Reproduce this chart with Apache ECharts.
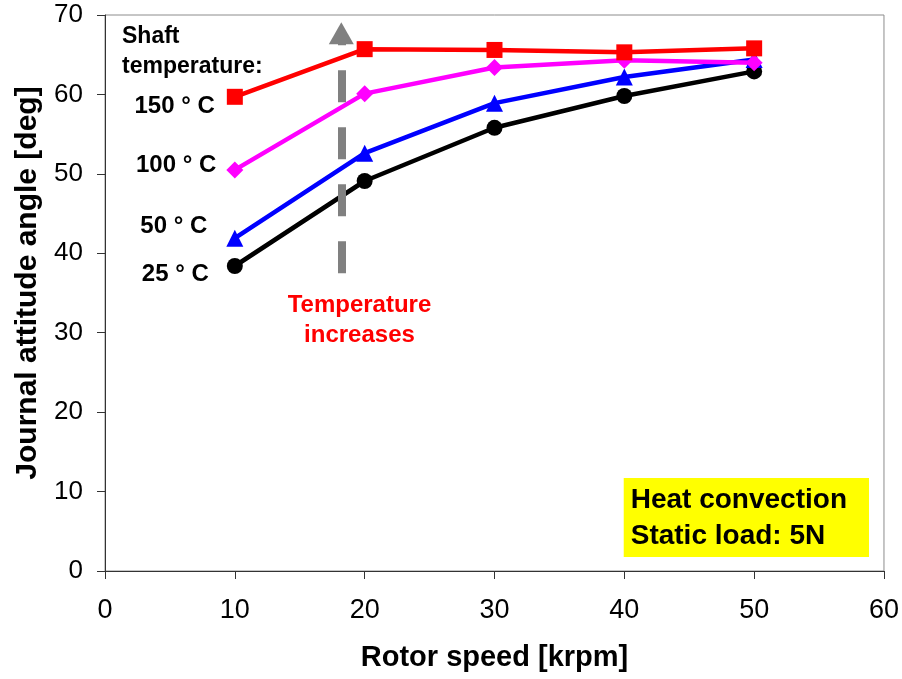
<!DOCTYPE html>
<html>
<head>
<meta charset="utf-8">
<script src="https://cdn.jsdelivr.net/npm/echarts@6/dist/echarts.min.js"></script>
<style>
  html, body { margin: 0; padding: 0; background: #fff; }
  #chart { width: 902px; height: 679px; }
</style>
</head>
<body>
<div id="chart"></div>
<script>
// Rotor speed [krpm] at which the attitude angle was measured
const rotorSpeed = [10, 20, 30, 40, 50];

// Journal attitude angle [deg] for each shaft temperature
const angle25C  = [38.4, 49.1, 55.8, 59.8, 62.9];
const angle50C  = [41.9, 52.6, 58.9, 62.2, 64.4];
const angle100C = [50.5, 60.1, 63.4, 64.3, 64.0];
const angle150C = [59.7, 65.7, 65.6, 65.3, 65.8];

const seriesNames = ['25 ° C', '50 ° C', '100 ° C', '150 ° C'];

// Trend arrow: speed position and angle span (bottom, head)
const arrowSpeed = 18.2;
const arrowSpan = [37.5, 67.7];

const FONT = '"Liberation Sans", Arial, sans-serif';

function pairs(values) {
  return rotorSpeed.map((x, i) => [x, values[i]]);
}

// Name the curve next to its first point
function withLeadLabel(values, distance, dy) {
  const d = pairs(values);
  d[0] = {
    value: d[0],
    label: {
      show: true,
      position: 'left',
      distance: distance,
      offset: [0, dy],
      formatter: '{a}',
      color: '#000',
      fontFamily: FONT,
      fontWeight: 'bold',
      fontSize: 24
    }
  };
  return d;
}

function lineSeries(name, values, color, symbol, size, width, distance, dy) {
  return {
    name: name,
    type: 'line',
    data: withLeadLabel(values, distance, dy),
    symbol: symbol,
    symbolSize: size,
    lineStyle: { color: color, width: width },
    itemStyle: { color: color },
    emphasis: { disabled: true },
    animation: false
  };
}

const chart = echarts.init(document.getElementById('chart'), null, { renderer: 'canvas' });

const series = [
  lineSeries(seriesNames[0], angle25C, '#000000', 'circle', 16, 4.5, 18, 8),
  lineSeries(seriesNames[1], angle50C, '#0000ff', 'triangle', 17, 4.5, 19, -12),
  lineSeries(seriesNames[2], angle100C, '#ff00ff', 'diamond', 17, 4.5, 10, -5),
  lineSeries(seriesNames[3], angle150C, '#ff0000', 'rect', 16, 4.5, 12, 10)
];

// Dashed grey arrow showing the direction of rising temperature
series[0].markLine = {
  silent: true,
  animation: false,
  symbol: ['none', 'triangle'],
  symbolSize: [25, 22],
  label: { show: false },
  lineStyle: { color: '#808080', width: 8, type: [32, 25] },
  emphasis: { disabled: true },
  data: [[
    { coord: [arrowSpeed, arrowSpan[0]] },
    { coord: [arrowSpeed, arrowSpan[1]] }
  ]]
};

// "Temperature increases" caption under the arrow
series[0].markPoint = {
  silent: true,
  animation: false,
  symbol: 'circle',
  symbolSize: 1,
  itemStyle: { color: 'rgba(0,0,0,0)' },
  label: {
    show: true,
    position: 'inside',
    formatter: 'Temperature\nincreases',
    color: '#ff0000',
    fontFamily: FONT,
    fontWeight: 'bold',
    fontSize: 24,
    lineHeight: 30,
    align: 'center',
    verticalAlign: 'middle'
  },
  data: [{ coord: [19.6, 31.6] }]
};

const option = {
  backgroundColor: '#ffffff',
  animation: false,
  grid: {
    left: 105, right: 18, top: 15, bottom: 108,
    show: true,
    borderColor: '#8c8c8c',
    borderWidth: 1,
    backgroundColor: '#ffffff'
  },
  xAxis: {
    type: 'value',
    min: 0, max: 60, interval: 10,
    name: 'Rotor speed [krpm]',
    nameLocation: 'middle',
    nameGap: 72,
    nameTextStyle: { fontFamily: FONT, fontWeight: 'bold', fontSize: 29, color: '#000' },
    axisLine: { show: true, onZero: false, lineStyle: { color: '#333', width: 1 } },
    axisTick: { show: true, inside: false, length: 8, lineStyle: { color: '#333' } },
    axisLabel: { margin: 26, fontFamily: FONT, fontSize: 27, color: '#000' },
    splitLine: { show: false }
  },
  yAxis: {
    type: 'value',
    min: 0, max: 70, interval: 10,
    name: 'Journal attitude angle [deg]',
    nameLocation: 'middle',
    nameRotate: 90,
    nameGap: 60,
    nameTextStyle: { fontFamily: FONT, fontWeight: 'bold', fontSize: 30, color: '#000', padding: [0, 0, 0, 20] },
    axisLine: { show: true, onZero: false, lineStyle: { color: '#333', width: 1 } },
    axisTick: { show: true, inside: false, length: 8, lineStyle: { color: '#333' } },
    axisLabel: { margin: 22, fontFamily: FONT, fontSize: 26, color: '#000' },
    splitLine: { show: false }
  },
  title: {
    text: 'Heat convection\nStatic load: 5N',
    right: 33,
    bottom: 122,
    backgroundColor: '#ffff00',
    padding: [4, 22, 3, 7],
    textStyle: {
      fontFamily: FONT,
      fontWeight: 'bold',
      fontSize: 28,
      lineHeight: 36,
      color: '#000'
    }
  },
  graphic: [{
    type: 'text',
    left: 122,
    top: 22,
    silent: true,
    style: {
      text: 'Shaft\ntemperature:',
      fill: '#000',
      font: 'bold 23px ' + FONT,
      lineHeight: 30
    }
  }],
  series: series
};

chart.setOption(option);
</script>
</body>
</html>
